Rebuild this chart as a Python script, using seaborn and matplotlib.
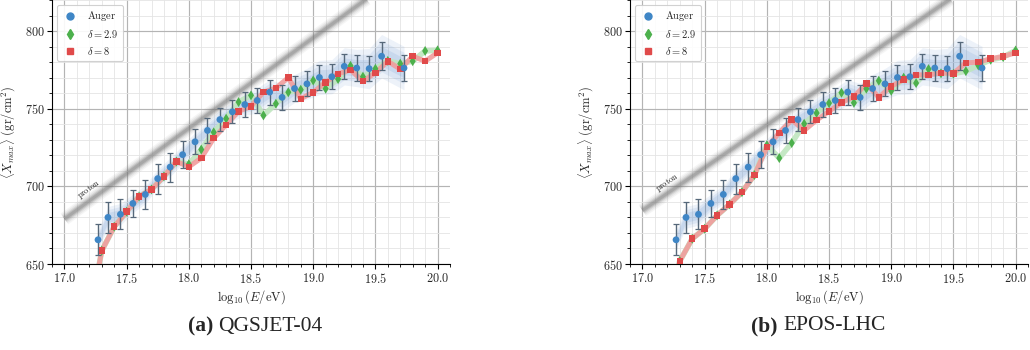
import numpy as np
import pandas as pd
import matplotlib
matplotlib.use("Agg")
import matplotlib.pyplot as plt
import seaborn as sns
from matplotlib.ticker import MultipleLocator, FuncFormatter
from matplotlib.lines import Line2D

# ---------------- data ----------------
x_auger = [17.27, 17.35, 17.45, 17.55, 17.65, 17.75, 17.85, 17.95, 18.05, 18.15,
           18.25, 18.35, 18.45, 18.55, 18.65, 18.75, 18.85, 18.95, 19.05, 19.15,
           19.25, 19.35, 19.45, 19.55, 19.73]
y_auger = [665.6, 680.0, 682.0, 689.0, 694.8, 705.0, 712.4, 720.4, 728.7, 736.0,
           743.0, 748.0, 752.7, 755.3, 760.7, 757.3, 763.0, 766.0, 770.1, 770.6,
           777.3, 776.2, 775.8, 783.8, 776.2]
err_auger = [10.0, 10.0, 9.7, 8.8, 9.4, 9.7, 9.4, 8.8, 8.0, 7.8,
             7.5, 7.5, 8.2, 8.0, 8.0, 8.0, 8.0, 8.0, 8.0, 8.0,
             8.0, 8.5, 8.0, 9.0, 8.5]
band_auger = [6, 7, 7, 6, 6, 6, 6, 6, 6, 6,
              6, 6, 7, 8, 8, 9, 9, 10, 11, 11,
              12, 12, 13, 14, 14]

x_model = [17.2, 17.3, 17.4, 17.5, 17.6, 17.7, 17.8, 17.9, 18.0, 18.1, 18.2,
           18.3, 18.4, 18.5, 18.6, 18.7, 18.8, 18.9, 19.0, 19.1, 19.2,
           19.3, 19.4, 19.5, 19.6, 19.7, 19.8, 19.9, 20.0]

qgs_d8 = [616.0, 658.6, 674.0, 683.7, 693.5, 698.0, 706.4, 716.0, 712.6, 718.2, 731.0,
          739.6, 748.3, 751.5, 760.7, 763.3, 770.0, 756.4, 760.6, 767.0, 772.5,
          775.0, 767.7, 773.1, 780.5, 775.5, 783.8, 780.6, 786.0]
qgs_d29 = [616.0, 658.6, 674.0, 683.7, 693.5, 698.0, 706.4, 716.0, 714.3, 723.7, 734.8,
           743.6, 754.3, 758.6, 745.7, 753.2, 760.6, 762.2, 768.2, 762.9, 769.1,
           777.6, 770.6, 775.7, 780.8, 779.0, 780.6, 787.2, 787.6]

epos_d8 = [620.0, 651.9, 666.3, 672.7, 681.3, 688.4, 696.3, 707.3, 725.2, 734.5, 742.9,
           736.0, 742.7, 748.3, 753.9, 757.7, 766.1, 757.3, 764.4, 768.9, 771.8,
           771.8, 773.0, 772.8, 779.5, 780.0, 782.2, 783.7, 786.0]
epos_d29 = [620.0, 651.9, 666.3, 672.7, 681.3, 688.4, 696.3, 707.3, 726.5, 718.2, 727.9,
            740.3, 747.2, 753.6, 760.3, 753.8, 762.9, 768.0, 761.5, 770.0, 766.5,
            775.5, 772.8, 772.5, 774.2, 777.9, 781.5, 783.2, 787.5]

proton_x = [17.0, 20.0]
proton_qgs = [679.0, 854.0]
proton_epos = [684.5, 849.5]

captions = [("(a)", "QGSJET-04"), ("(b)", "EPOS-LHC")]
labels = [r"$\mathrm{Auger}$", r"$\delta = 2.9$", r"$\delta = 8$"]

# ---------------- style ----------------
sns.set_theme(style="whitegrid")
plt.rcParams.update({
    "font.family": ["DejaVu Serif"],
    "mathtext.fontset": "cm",
    "axes.edgecolor": "black",
    "axes.linewidth": 0.8,
})

C_BLUE = "#3f86c6"
C_GREEN = "#4cb04c"
C_RED = "#e04a4a"
C_GREEN_LINE = "#bfe6bf"
C_RED_LINE = "#f19c9c"
C_ERR = "#56687a"

fig = plt.figure(figsize=(10.3, 3.5), dpi=100)
ax_left = fig.add_axes([0.0505, 0.2457, 0.3864, 0.7543])
ax_right = fig.add_axes([0.6117, 0.2457, 0.3864, 0.7543])

xa = np.array(x_auger)
ya = np.array(y_auger)
ea = np.array(err_auger)
ba = np.array(band_auger)


def draw_panel(ax, red, green, proton):
    ax.set_xlim(16.9, 20.1)
    ax.set_ylim(650, 820)

    # proton reference line (fuzzy grey band)
    for lw, a in [(9.5, 0.07), (7.5, 0.10), (5.5, 0.16), (3.8, 0.25), (2.2, 0.30)]:
        sns.lineplot(x=proton_x, y=proton, ax=ax, color="#777777", alpha=a,
                     linewidth=lw, zorder=1.5, solid_capstyle="butt")

    # Auger band (nested layers)
    for frac, a in [(1.0, 0.10), (0.72, 0.11), (0.45, 0.13)]:
        ax.fill_between(xa, ya - ba * frac, ya + ba * frac, color="#4f84c9",
                        alpha=a, linewidth=0, zorder=1.6)

    # model lines
    sns.lineplot(x=x_model, y=green, ax=ax, color=C_GREEN_LINE, alpha=0.9,
                 linewidth=4.0, zorder=2)
    sns.lineplot(x=x_model, y=red, ax=ax, color=C_RED_LINE, alpha=0.9,
                 linewidth=3.6, zorder=2.1)

    # error bars
    ax.errorbar(xa, ya, yerr=ea, fmt="none", ecolor=C_ERR, elinewidth=1.0,
                capsize=2.0, capthick=0.9, zorder=3)

    sns.scatterplot(x=x_model, y=green, ax=ax, marker="d", s=26, color=C_GREEN,
                    edgecolor="none", zorder=4)
    sns.scatterplot(x=x_model, y=red, ax=ax, marker="s", s=22, color=C_RED,
                    edgecolor="none", zorder=4.5)
    sns.scatterplot(x=x_auger, y=y_auger, ax=ax, marker="o", s=24, color=C_BLUE,
                    edgecolor="none", zorder=5)

    # axes styling
    ax.xaxis.set_major_locator(MultipleLocator(0.5))
    ax.xaxis.set_minor_locator(MultipleLocator(0.1))
    ax.yaxis.set_major_locator(MultipleLocator(50))
    ax.yaxis.set_minor_locator(MultipleLocator(10))
    ax.xaxis.set_major_formatter(FuncFormatter(lambda v, p: f"${v:.1f}$"))
    ax.yaxis.set_major_formatter(FuncFormatter(lambda v, p: f"${v:.0f}$"))
    ax.grid(which="major", color="#b4b4b4", linewidth=0.85)
    ax.grid(which="minor", color="#e4e4e4", linewidth=0.6)
    ax.set_axisbelow(True)
    for s in ("top", "right"):
        ax.spines[s].set_visible(False)
    for s in ("left", "bottom"):
        ax.spines[s].set_color("black")
        ax.spines[s].set_linewidth(0.8)
    ax.tick_params(which="major", direction="out", length=3.5, width=0.8,
                   color="black", labelsize=8.8, pad=2, left=True, bottom=True)
    ax.tick_params(which="minor", direction="out", length=2.0, width=0.6,
                   color="black", left=True, bottom=True)
    ax.set_xlabel(r"$\log_{10}(E/\mathrm{eV})$", fontsize=9, labelpad=2)
    ax.set_ylabel(r"$\langle X_{max}\rangle\ (\mathrm{gr/cm^2})$", fontsize=9,
                  labelpad=5)

    # proton label rotated along the line
    fig.canvas.draw()
    p0 = ax.transData.transform((proton_x[0], proton[0]))
    p1 = ax.transData.transform((proton_x[1], proton[1]))
    ang = np.degrees(np.arctan2(p1[1] - p0[1], p1[0] - p0[0]))
    slope = (proton[1] - proton[0]) / (proton_x[1] - proton_x[0])
    xt = 17.2
    yt = proton[0] + slope * (xt - proton_x[0]) + 7.0
    ax.text(xt, yt, r"$\mathrm{proton}$", fontsize=6, rotation=ang,
            ha="center", va="center", color="#222222", zorder=6)

    handles = [
        Line2D([], [], marker="o", linestyle="none", color=C_BLUE, markersize=5),
        Line2D([], [], marker="d", linestyle="none", color=C_GREEN, markersize=5.5),
        Line2D([], [], marker="s", linestyle="none", color=C_RED, markersize=4.8),
    ]
    leg = ax.legend(handles, labels, loc="upper left", fontsize=7.5,
                    frameon=True, fancybox=True, framealpha=0.9,
                    edgecolor="#cccccc", borderaxespad=0.45, handlelength=1.6,
                    handletextpad=0.9, labelspacing=0.45, borderpad=0.45)
    leg.get_frame().set_linewidth(0.8)


draw_panel(ax_left, qgs_d8, qgs_d29, proton_qgs)
draw_panel(ax_right, epos_d8, epos_d29, proton_epos)

# captions
cap_y = 1 - 326 / 350
for (bold, rest), xsplit in zip(captions, [214 / 1030, 779 / 1030]):
    fig.text(xsplit - 0.001, cap_y, bold, ha="right", va="center",
             fontsize=15.5, fontweight="bold", family=["Liberation Serif"])
    fig.text(xsplit + 0.004, cap_y, rest, ha="left", va="center",
             fontsize=15.5, family=["Liberation Serif"])

fig.savefig("out.png", dpi=100)
